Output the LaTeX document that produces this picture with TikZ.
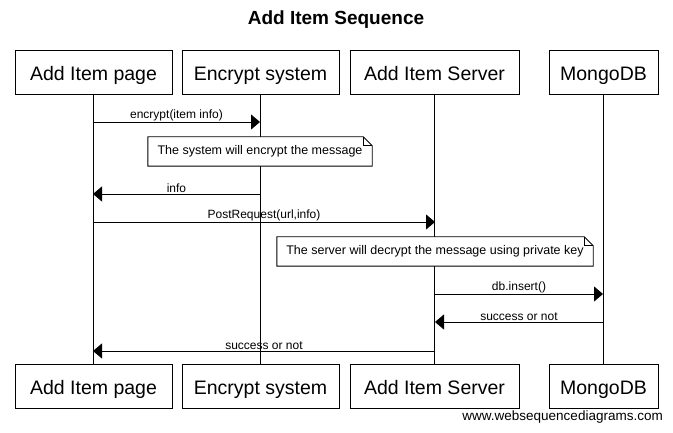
\documentclass[tikz,border=0pt]{standalone}
\usepackage{fontspec}
\setmainfont{Liberation Sans}
\usetikzlibrary{arrows.meta}
\begin{document}
\begin{tikzpicture}[x=1pt,y=-1pt,
  actor/.style={draw=black, line width=0.9pt, fill=white, minimum height=44pt, inner sep=0pt, text height=17pt, text depth=0pt, font=\fontsize{19.5}{22}\selectfont},
  lifeline/.style={draw=black, line width=0.9pt},
  msg/.style={draw=black, line width=0.9pt, -{Triangle[length=9pt,width=15pt]}},
  lbl/.style={font=\fontsize{12}{14}\selectfont, inner sep=0.6pt, above},
  notebox/.style={font=\fontsize{12.5}{14}\selectfont, inner sep=0pt, minimum height=29pt},
  notedraw/.style={draw=black, line width=0.9pt, fill=white}
]
\useasboundingbox (0,0) rectangle (673,433);
\fill[white] (0,0) rectangle (673,433);
\node[font=\bfseries\fontsize{19}{22}\selectfont] (title) at (336,20) {Add Item Sequence};

% top actors
\node[actor, minimum width=157pt] (A) at (93.5,72) {Add Item page};
\node[actor, minimum width=157pt] (B) at (260.5,72) {Encrypt system};
\node[actor, minimum width=169pt] (C) at (434.5,72) {Add Item Server};
\node[actor, minimum width=109pt] (D) at (603.5,72) {MongoDB};
% bottom actors
\node[actor, minimum width=157pt] (A2) at (93.5,386) {Add Item page};
\node[actor, minimum width=157pt] (B2) at (260.5,386) {Encrypt system};
\node[actor, minimum width=169pt] (C2) at (434.5,386) {Add Item Server};
\node[actor, minimum width=109pt] (D2) at (603.5,386) {MongoDB};

% lifelines
\draw[lifeline] (A) -- (A2);
\draw[lifeline] (B) -- (B2);
\draw[lifeline] (C) -- (C2);
\draw[lifeline] (D) -- (D2);
% redraw actor boxes over lifelines
\foreach \n/\w/\t/\xx/\yy in {A/157/Add Item page/93.5/72, B/157/Encrypt system/260.5/72, C/169/Add Item Server/434.5/72, D/109/MongoDB/603.5/72,
  A2/157/Add Item page/93.5/386, B2/157/Encrypt system/260.5/386, C2/169/Add Item Server/434.5/386, D2/109/MongoDB/603.5/386}
  {\node[actor, minimum width=\w pt] at (\xx,\yy) {\t};}

% message end points
\coordinate (m1a) at (93,122);  \coordinate (m1b) at (260,122);
\coordinate (m2a) at (260,194); \coordinate (m2b) at (93,194);
\coordinate (m3a) at (93,222);  \coordinate (m3b) at (435,222);
\coordinate (m4a) at (435,294); \coordinate (m4b) at (603,294);
\coordinate (m5a) at (603,322); \coordinate (m5b) at (435,322);
\coordinate (m6a) at (435,351); \coordinate (m6b) at (93,351);

\draw[msg] (m1a) -- node[lbl] {encrypt(item info)} (m1b);
\draw[msg] (m2a) -- node[lbl] {info} (m2b);
\draw[msg] (m3a) -- node[lbl] {PostRequest(url,info)} (m3b);
\draw[msg] (m4a) -- node[lbl] {db.insert()} (m4b);
\draw[msg] (m5a) -- node[lbl] {success or not} (m5b);
\draw[msg] (m6a) -- node[lbl] {success or not} (m6b);

% notes
\node[notebox, minimum width=224pt] (n1) at (260,151.5) {};
\draw[notedraw] (n1.north west) -- ([xshift=-9pt]n1.north east) -- ([yshift=-9pt]n1.north east) -- (n1.south east) -- (n1.south west) -- cycle;
\draw[notedraw, fill=none] ([xshift=-9pt]n1.north east) -- ([xshift=-9pt,yshift=-9pt]n1.north east) -- ([yshift=-9pt]n1.north east);
\node[notebox] at (n1) {The system will encrypt the message};

\node[notebox, minimum width=316pt] (n2) at (435,251.5) {};
\draw[notedraw] (n2.north west) -- ([xshift=-9pt]n2.north east) -- ([yshift=-9pt]n2.north east) -- (n2.south east) -- (n2.south west) -- cycle;
\draw[notedraw, fill=none] ([xshift=-9pt]n2.north east) -- ([xshift=-9pt,yshift=-9pt]n2.north east) -- ([yshift=-9pt]n2.north east);
\node[notebox] at (n2) {The server will decrypt the message using private key};

\node[font=\fontsize{13.5}{15}\selectfont, anchor=east, inner sep=0pt] (foot) at (663,417) {www.websequencediagrams.com};
\end{tikzpicture}
\end{document}
